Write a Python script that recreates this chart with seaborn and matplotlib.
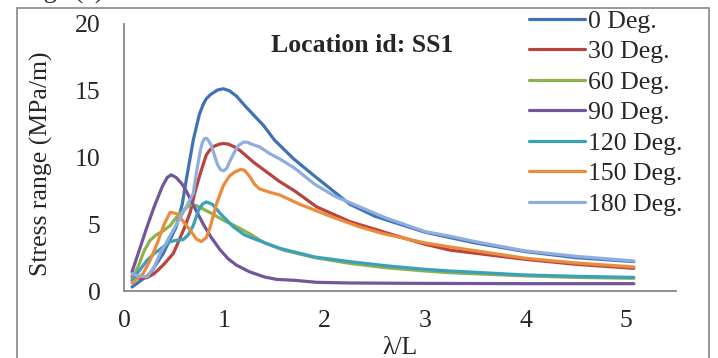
import numpy as np
import pandas as pd
import matplotlib
matplotlib.use("Agg")
import matplotlib.pyplot as plt
import seaborn as sns
from matplotlib.patches import Rectangle

series_names = ["0 Deg.", "30 Deg.", "60 Deg.", "90 Deg.", "120 Deg.", "150 Deg.", "180 Deg."]

x_0 = [0.08, 0.17, 0.26, 0.39, 0.52, 0.58, 0.62, 0.69, 0.75, 0.79, 0.82, 0.86, 0.93, 0.99, 1.05, 1.12, 1.22, 1.39, 1.5, 1.69, 1.9, 2.25, 2.5, 2.75, 3.0, 3.25, 3.5, 4.0, 4.5, 5.08]
y_0 = [0.3, 0.8, 1.3, 2.8, 4.8, 6.5, 8.3, 11.3, 13.2, 14.0, 14.4, 14.7, 15.05, 15.15, 15.0, 14.6, 13.75, 12.4, 11.3, 9.9, 8.6, 6.5, 5.6, 5.0, 4.4, 4.0, 3.6, 2.95, 2.5, 2.2]

x_30 = [0.08, 0.15, 0.23, 0.3, 0.39, 0.49, 0.52, 0.6, 0.66, 0.71, 0.76, 0.82, 0.86, 0.9, 0.95, 0.99, 1.04, 1.1, 1.16, 1.29, 1.55, 1.7, 1.92, 2.25, 2.75, 3.0, 3.25, 4.0, 4.5, 5.08]
y_30 = [1.07, 0.95, 1.0, 1.3, 1.94, 2.8, 3.3, 4.7, 5.9, 7.5, 8.8, 10.2, 10.6, 10.85, 11.0, 11.05, 11.0, 10.8, 10.5, 9.65, 8.2, 7.5, 6.3, 5.2, 4.05, 3.5, 3.06, 2.37, 2.0, 1.7]

x_60 = [0.08, 0.15, 0.2, 0.26, 0.32, 0.39, 0.46, 0.52, 0.6, 0.66, 0.72, 0.8, 0.9, 0.99, 1.1, 1.25, 1.4, 1.59, 1.9, 2.25, 2.6, 3.0, 3.25, 4.0, 4.5, 5.08]
y_60 = [0.8, 2.0, 3.0, 3.8, 4.2, 4.5, 4.9, 5.5, 6.1, 6.45, 6.4, 6.1, 5.7, 5.3, 4.9, 4.3, 3.6, 3.06, 2.5, 2.07, 1.75, 1.5, 1.37, 1.13, 1.02, 0.95]

x_90 = [0.08, 0.15, 0.22, 0.3, 0.38, 0.43, 0.47, 0.52, 0.58, 0.62, 0.7, 0.79, 0.87, 0.96, 1.04, 1.12, 1.25, 1.4, 1.52, 1.7, 1.92, 2.25, 3.0, 4.0, 5.08]
y_90 = [1.44, 3.0, 4.6, 6.3, 7.8, 8.5, 8.7, 8.5, 8.0, 7.5, 6.3, 5.0, 4.0, 3.06, 2.4, 1.94, 1.44, 1.05, 0.87, 0.8, 0.65, 0.6, 0.57, 0.55, 0.55]

x_120 = [0.08, 0.15, 0.23, 0.3, 0.39, 0.46, 0.52, 0.59, 0.64, 0.69, 0.74, 0.78, 0.82, 0.88, 0.96, 1.09, 1.2, 1.3, 1.55, 1.9, 2.25, 2.6, 3.0, 3.25, 4.0, 4.5, 5.08]
y_120 = [0.8, 1.5, 2.3, 2.8, 3.3, 3.7, 3.8, 3.85, 4.2, 4.9, 6.0, 6.5, 6.67, 6.5, 5.8, 4.8, 4.2, 3.9, 3.2, 2.55, 2.2, 1.9, 1.62, 1.5, 1.2, 1.1, 1.02]

x_150 = [0.08, 0.19, 0.26, 0.33, 0.4, 0.46, 0.52, 0.56, 0.66, 0.72, 0.77, 0.82, 0.86, 0.92, 0.99, 1.05, 1.1, 1.16, 1.2, 1.25, 1.3, 1.35, 1.45, 1.55, 1.75, 2.09, 2.35, 2.58, 3.0, 3.25, 4.0, 4.5, 5.08]
y_150 = [0.6, 1.3, 2.3, 3.55, 5.0, 5.9, 5.8, 5.5, 4.55, 3.9, 3.7, 4.0, 4.8, 6.5, 7.9, 8.6, 8.9, 9.1, 9.05, 8.6, 8.0, 7.65, 7.4, 7.2, 6.5, 5.5, 4.8, 4.3, 3.6, 3.3, 2.45, 2.1, 1.8]

x_180 = [0.08, 0.15, 0.23, 0.3, 0.36, 0.49, 0.56, 0.62, 0.69, 0.72, 0.76, 0.78, 0.8, 0.82, 0.84, 0.87, 0.9, 0.93, 0.96, 0.99, 1.02, 1.06, 1.1, 1.14, 1.19, 1.23, 1.27, 1.35, 1.45, 1.55, 1.7, 1.9, 2.1, 2.35, 2.6, 3.0, 3.25, 3.5, 4.0, 4.5, 5.08]
y_180 = [1.3, 1.1, 1.07, 1.8, 2.8, 4.55, 5.5, 6.3, 7.3, 8.8, 10.5, 11.1, 11.4, 11.45, 11.3, 10.9, 10.2, 9.5, 9.1, 9.0, 9.15, 9.8, 10.4, 10.9, 11.15, 11.15, 11.0, 10.8, 10.3, 9.9, 9.2, 8.0, 7.1, 6.3, 5.5, 4.45, 4.1, 3.7, 3.0, 2.6, 2.25]

x_ticks = [0, 1, 2, 3, 4, 5]
y_ticks = [0, 5, 10, 15, 20]

colors = ["#3F73B4", "#B8433F", "#8FB14C", "#72559A", "#3AA0BC", "#EB8B3C", "#8FAEDC"]

xs = [x_0, x_30, x_60, x_90, x_120, x_150, x_180]
ys = [y_0, y_30, y_60, y_90, y_120, y_150, y_180]
frames = []
for name, xv, yv in zip(series_names, xs, ys):
    frames.append(pd.DataFrame({"lam": xv, "stress": yv, "series": name}))
df = pd.concat(frames, ignore_index=True)

sns.set_style("white")
plt.rcParams["font.family"] = ["Liberation Serif", "DejaVu Serif"]

FS = 18.5

fig = plt.figure(figsize=(7.18, 3.58), dpi=100)
ax = fig.add_axes([124 / 718, 1 - 291 / 358, 552 / 718, 267 / 358])

sns.lineplot(data=df, x="lam", y="stress", hue="series", hue_order=series_names,
             palette=colors, sort=False, estimator=None, linewidth=2.3, ax=ax)

ax.set_xlim(0, 5.5)
ax.set_ylim(0, 20)
ax.set_xticks(x_ticks)
ax.set_yticks(y_ticks)
for s in ["top", "right"]:
    ax.spines[s].set_visible(False)
for s in ["left", "bottom"]:
    ax.spines[s].set_color("#888888")
    ax.spines[s].set_linewidth(1.3)
ax.tick_params(axis="both", direction="out", length=5, width=1.3, color="#888888",
               labelsize=FS)
ax.tick_params(axis="y", pad=12)
ax.tick_params(axis="x", pad=9)
ax.set_xlabel("λ/L", fontsize=FS, labelpad=3)
ax.set_ylabel("Stress range (MPa/m)", fontsize=FS, labelpad=13)
ax.yaxis.set_label_coords(-0.128, 0.475)
ax.grid(False)

ax.text(0.431, 0.921, "Location id: SS1", transform=ax.transAxes, ha="center", va="center",
        fontsize=FS, fontweight="bold")

leg = ax.legend(loc="upper right", bbox_to_anchor=(683 / 718, 1 - 10 / 358),
                bbox_transform=fig.transFigure, frameon=False, fontsize=FS,
                handlelength=2.2, handletextpad=0.12, labelspacing=0.29,
                borderpad=0.0, borderaxespad=0.0)
for line in leg.get_lines():
    line.set_linewidth(2.3)

fig.patches.append(Rectangle((17 / 718, -0.1), (709 - 17) / 718, 0.1 + 1 - 8 / 358,
                             transform=fig.transFigure, fill=False,
                             edgecolor="#888888", linewidth=1.2))
fig.text(103 / 718, 1 + 1 / 358, "Stress range (c)", ha="right", va="baseline", fontsize=FS)

fig.savefig("out.png", dpi=100)
